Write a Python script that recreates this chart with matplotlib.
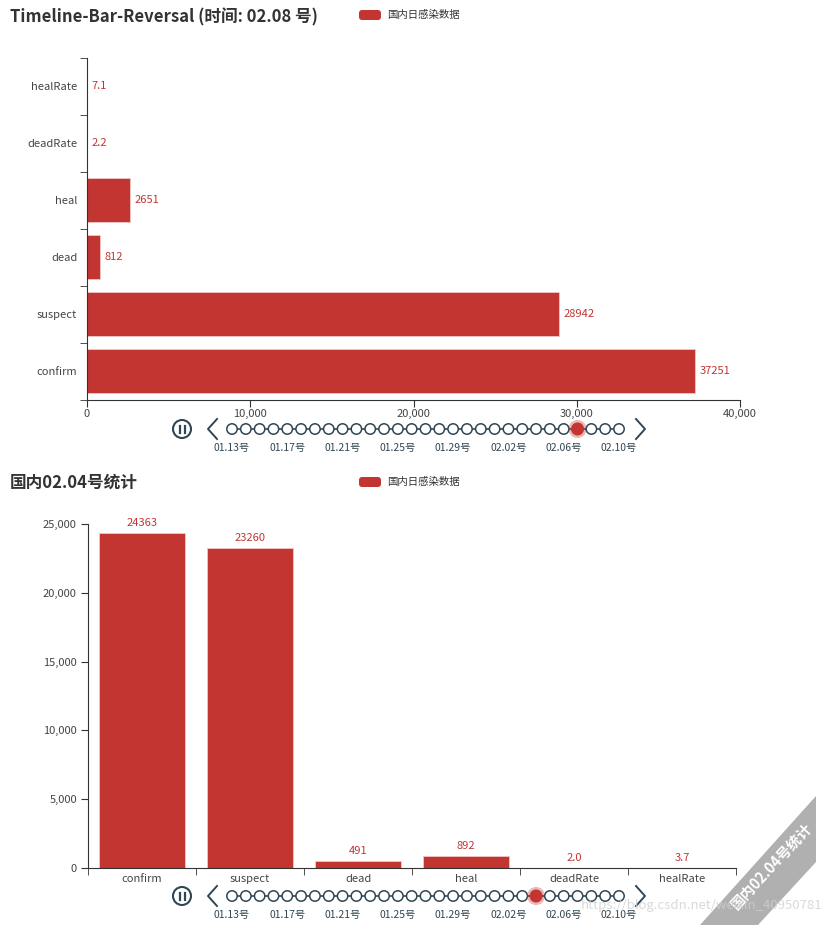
import matplotlib
matplotlib.use("Agg")
import matplotlib.pyplot as plt
from matplotlib.patches import Circle, FancyBboxPatch, Polygon
import numpy as np

plt.rcParams['font.family'] = ['Noto Sans CJK SC', 'DejaVu Sans']

# ---- data ----
cats = ["confirm", "suspect", "dead", "heal", "deadRate", "healRate"]
top_vals = [37251, 28942, 812, 2651, 2.2, 7.1]
bot_vals = [24363, 23260, 491, 892, 2.0, 3.7]
top_title = "Timeline-Bar-Reversal (时间: 02.08 号)"
bot_title = "国内02.04号统计"
legend_name = "国内日感染数据"
dates = ["01.%02d" % d for d in range(13, 32)] + ["02.%02d" % d for d in range(1, 11)]
top_sel = 25
bot_sel = 22

RED = "#c23531"
DARK = "#304654"
TXT = "#444444"

W, H = 832, 925
fig = plt.figure(figsize=(W / 100, H / 100), dpi=100)


def px_axes(x0, y0, x1, y1):
    # pixel box (top-left origin) -> axes
    return fig.add_axes([x0 / W, 1 - y1 / H, (x1 - x0) / W, (y1 - y0) / H])


def fmt(v):
    return "%.1f" % v if isinstance(v, float) else str(v)


# ---- top chart: horizontal bars ----
ax1 = px_axes(87, 57.5, 740, 399.5)
y = np.arange(len(cats))
ax1.barh(y, top_vals, height=0.78, color=RED, edgecolor="#f0c8c8", linewidth=0.6)
for yi, v in zip(y, top_vals):
    ax1.text(v + 250, yi, fmt(v), color=RED, fontsize=8, va="center", ha="left")
ax1.set_ylim(-0.5, len(cats) - 0.5)
ax1.set_xlim(0, 40000)
ax1.set_yticks(y)
ax1.set_yticklabels(cats)
ax1.set_yticks(np.arange(-0.5, len(cats), 1), minor=True)
ax1.tick_params(axis="y", which="major", length=0, pad=7, labelsize=8, labelcolor=TXT)
ax1.tick_params(axis="y", which="minor", length=5, color="#333333")
ax1.set_xticks([0, 10000, 20000, 30000, 40000])
ax1.set_xticklabels(["0", "10,000", "20,000", "30,000", "40,000"])
ax1.tick_params(axis="x", length=5, color="#333333", labelsize=8, labelcolor=TXT, pad=2)
for s in ["top", "right"]:
    ax1.spines[s].set_visible(False)
for s in ["left", "bottom"]:
    ax1.spines[s].set_color("#333333")

# ---- bottom chart: vertical bars ----
ax2 = px_axes(88, 524, 736, 868)
x = np.arange(len(cats))
ax2.bar(x, bot_vals, width=0.8, color=RED, edgecolor="#f0c8c8", linewidth=0.6)
for xi, v in zip(x, bot_vals):
    ax2.text(xi, v + 350, fmt(v), color=RED, fontsize=8, ha="center", va="bottom")
ax2.set_xlim(-0.5, len(cats) - 0.5)
ax2.set_ylim(0, 25000)
ax2.set_xticks(x)
ax2.set_xticklabels(cats)
ax2.set_xticks(np.arange(-0.5, len(cats), 1), minor=True)
ax2.tick_params(axis="x", which="major", length=0, pad=4, labelsize=8, labelcolor=TXT)
ax2.tick_params(axis="x", which="minor", length=5, color="#333333")
yt = [0, 5000, 10000, 15000, 20000, 25000]
ax2.set_yticks(yt)
ax2.set_yticklabels(["{:,}".format(t) for t in yt])
ax2.tick_params(axis="y", length=5, color="#333333", labelsize=8, labelcolor=TXT, pad=3)
for s in ["top", "right"]:
    ax2.spines[s].set_visible(False)
for s in ["left", "bottom"]:
    ax2.spines[s].set_color("#333333")

# ---- overlay for titles, legends, timelines ----
ov = fig.add_axes([0, 0, 1, 1])
ov.set_xlim(0, W)
ov.set_ylim(H, 0)
ov.axis("off")
ov.patch.set_alpha(0)

ov.text(10, 17, top_title, fontsize=12, fontweight="bold", color="#333333", va="center")
ov.text(10, 483, bot_title, fontsize=12, fontweight="bold", color="#333333", va="center")

for ly in (15, 482):
    ov.add_patch(FancyBboxPatch((359, ly - 5), 22, 10, boxstyle="round,pad=0,rounding_size=3",
                                fc=RED, ec="none"))
    ov.text(387, ly, legend_name, fontsize=7.5, color="#333333", va="center")


def timeline(yc, sel):
    xs = np.linspace(232, 619, len(dates))
    # pause button
    ov.add_patch(Circle((182, yc), 9, fc="none", ec=DARK, lw=1.5))
    ov.plot([179.5, 179.5], [yc - 3.5, yc + 3.5], color=DARK, lw=1.6)
    ov.plot([184.5, 184.5], [yc - 3.5, yc + 3.5], color=DARK, lw=1.6)
    # chevrons
    ov.plot([217, 208, 217], [yc - 10, yc, yc + 10], color=DARK, lw=1.4)
    ov.plot([636, 645, 636], [yc - 10, yc, yc + 10], color=DARK, lw=1.4)
    ov.plot([xs[0], xs[-1]], [yc, yc], color=DARK, lw=1.2, zorder=2)
    for i, xp in enumerate(xs):
        if i == sel:
            ov.add_patch(Circle((xp, yc), 9, fc=RED, ec="none", alpha=0.35, zorder=3))
            ov.add_patch(Circle((xp, yc), 6.5, fc=RED, ec="none", zorder=4))
        else:
            ov.add_patch(Circle((xp, yc), 5.2, fc="white", ec=DARK, lw=1.1, zorder=3))
        if i % 4 == 0:
            ov.text(xp, yc + 19, dates[i] + "号", fontsize=7.5, color=DARK, ha="center", va="center")


timeline(429, top_sel)
timeline(896, bot_sel)

# ---- corner ribbon watermark ----
ov.add_patch(Polygon([[700, 925], [816, 796], [816, 862], [758, 925]], closed=True,
                     fc="#a8a8a8", ec="none", alpha=0.9))
ov.text(771, 866, bot_title, rotation=47, fontsize=10.5, fontweight="bold", color="white",
        ha="center", va="center")
ov.text(822, 906, "https://blog.csdn.net/weixin_40950781", fontsize=9.5, color="#d0d0d0",
        ha="right", va="center", alpha=0.8)

fig.savefig("out.png", dpi=100)
